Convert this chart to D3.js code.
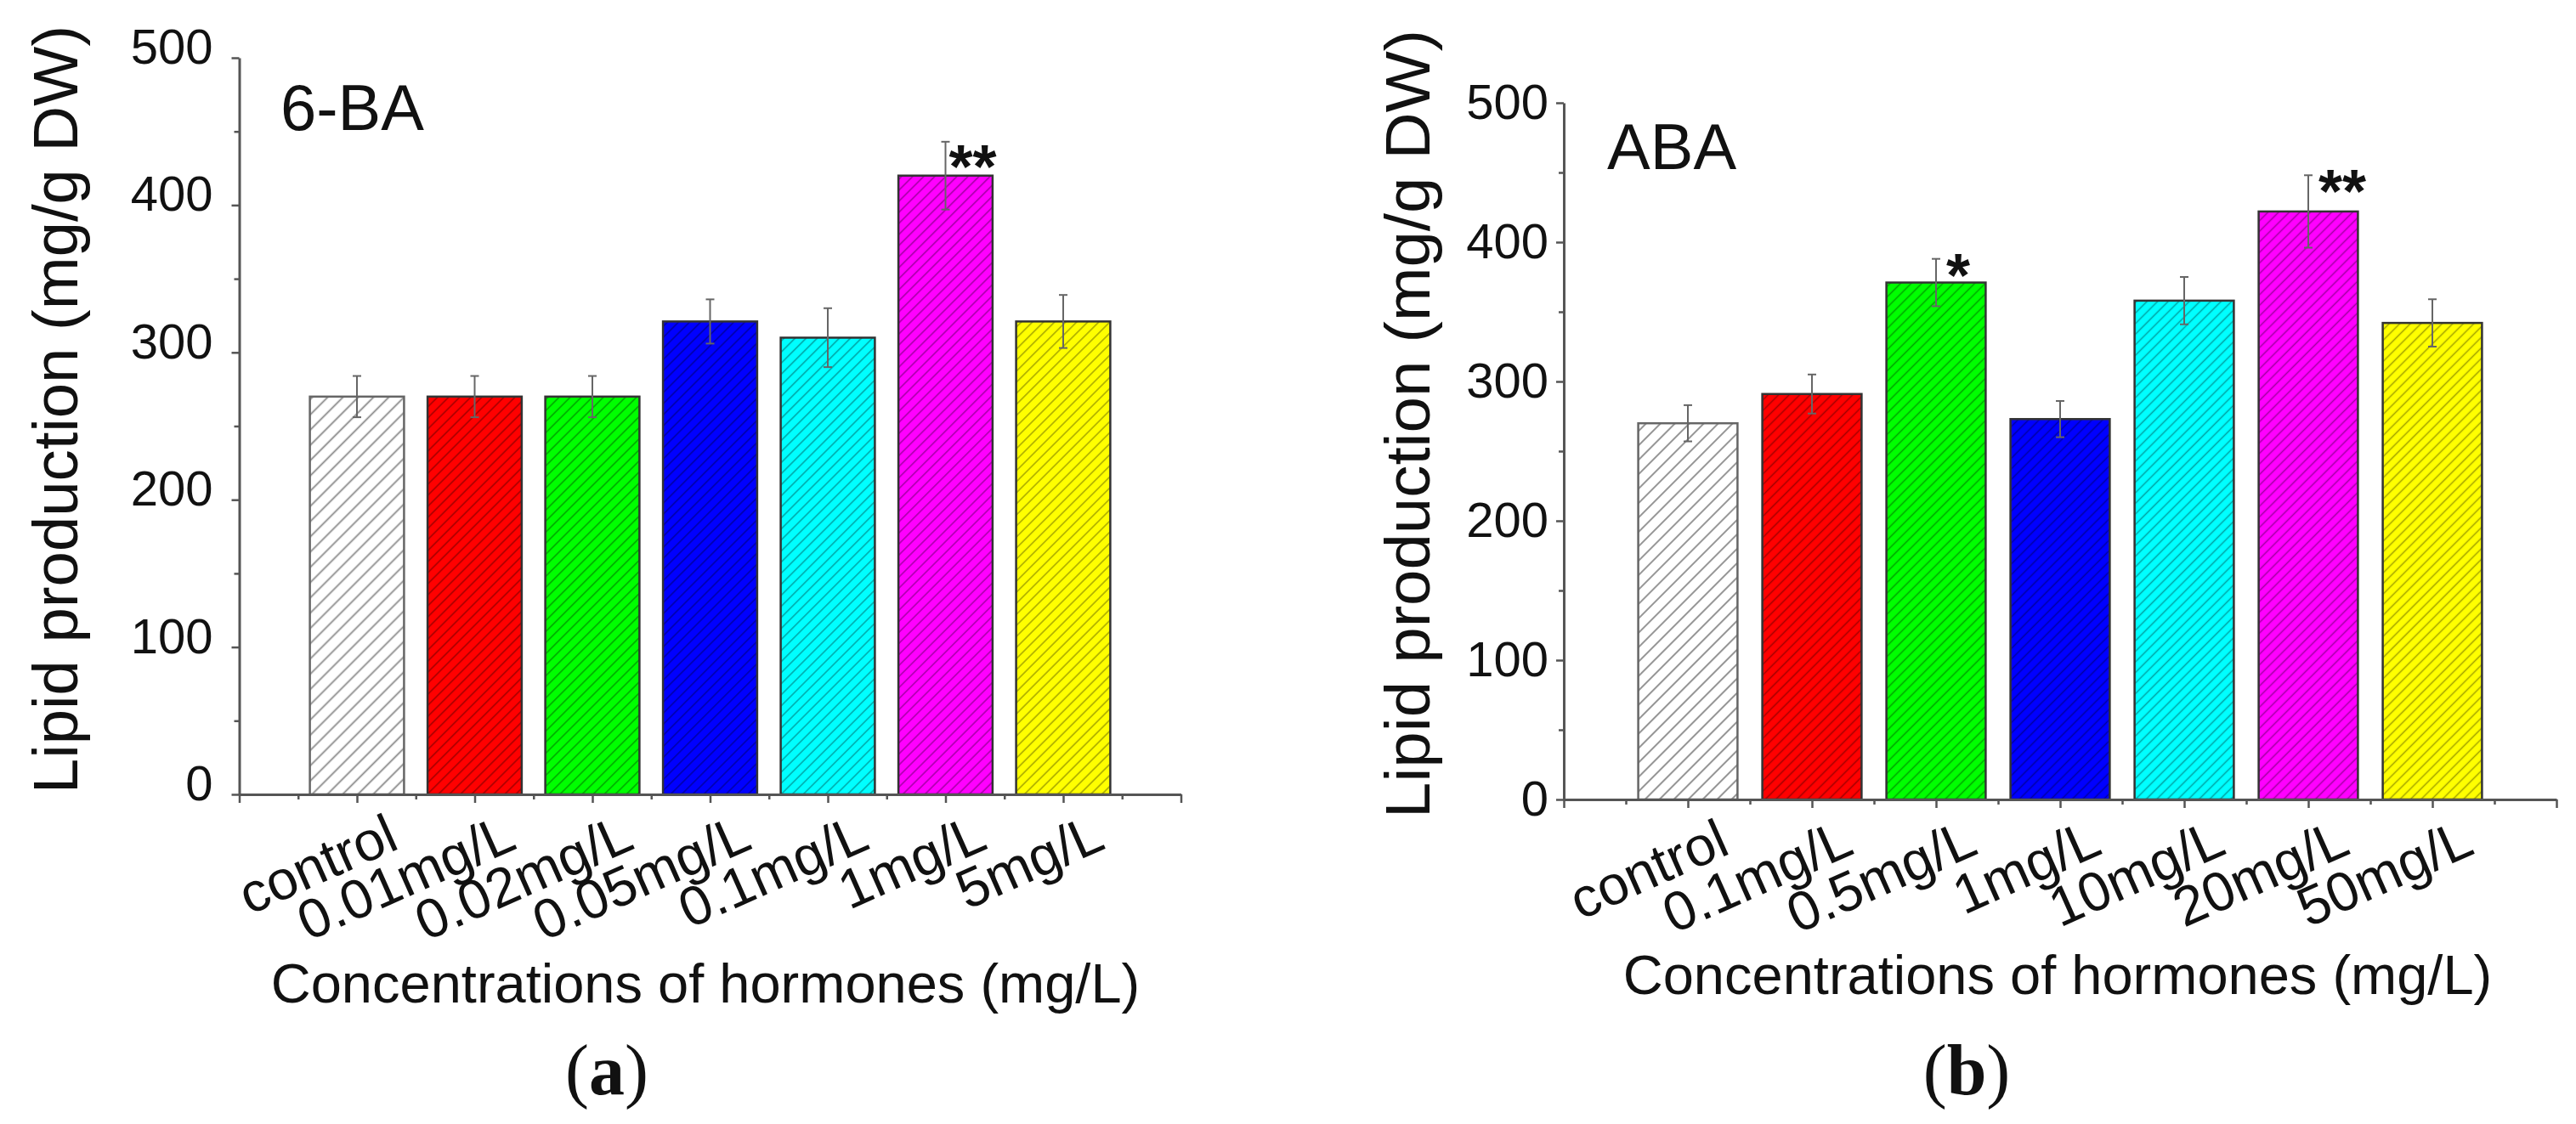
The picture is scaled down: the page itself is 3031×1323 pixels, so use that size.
<!DOCTYPE html>
<html><head><meta charset="utf-8">
<script src="https://cdn.jsdelivr.net/npm/d3@7"></script>
<style>body{margin:0;background:#fff;} svg{display:block;}</style>
</head><body>
<svg id="fig" width="3031" height="1323"></svg>
<script>
// ---------- data ----------
const categoriesA = ["control","0.01mg/L","0.02mg/L","0.05mg/L","0.1mg/L","1mg/L","5mg/L"];
const valuesA = [270, 270, 270, 321, 310, 420, 321];
const errorsA = [14, 14, 14, 15, 20, 23, 18];
const marksA  = ["", "", "", "", "", "**", ""];

const categoriesB = ["control","0.1mg/L","0.5mg/L","1mg/L","10mg/L","20mg/L","50mg/L"];
const valuesB = [270, 291, 371, 273, 358, 422, 342];
const errorsB = [13, 14, 17, 13, 17, 26, 17];
const marksB  = ["", "", "*", "", "", "**", ""];

const barColors = ["#ffffff","#ff0000","#00ff00","#0000ff","#00ffff","#ff00ff","#ffff00"];
const yMajorTicks = [0, 100, 200, 300, 400, 500];
const yMinorTicks = [50, 150, 250, 350, 450];
const yLabelText = "Lipid production (mg/g DW)";
const xLabelText = "Concentrations of hormones (mg/L)";
const panelTitles = ["6-BA", "ABA"];
const panelLetters = ["a", "b"];

// ---------- layout ----------
const W = 3031, H = 1323;
const FONT = "'Liberation Sans', Arial, Helvetica, sans-serif";
const SERIF = "'Liberation Serif', 'Times New Roman', serif";
const svg = d3.select("#fig");
svg.append("rect").attr("width", W).attr("height", H).attr("fill", "#fff");
const defs = svg.append("defs");

const panels = [
  { key:"a", categories:categoriesA, values:valuesA, errors:errorsA, marks:marksA,
    title:panelTitles[0], letter:panelLetters[0],
    x0:281.5, x1:1389.5, yTop:68, yBot:935,
    titleX:330, titleY:153, yLabX:65, yLabY:482, yLabLen:904,
    tickGap:22, tickDy:-12, xTitleX:830, xTitleY:1180, letterX:714, letterY:1288,
    hatch:9.2, hatchCtrl:12.7, markDx:4, markDy:54 },
  { key:"b", categories:categoriesB, values:valuesB, errors:errorsB, marks:marksB,
    title:panelTitles[1], letter:panelLetters[1],
    x0:1840, x1:3008, yTop:121, yBot:941,
    titleX:1891, titleY:199, yLabX:1656, yLabY:499, yLabLen:928,
    tickGap:9, tickDy:0, xTitleX:2421, xTitleY:1170, letterX:2314, letterY:1288,
    hatch:8.8, hatchCtrl:12, markDx:12, markDy:44 }
];

const AXIS_COLOR = "#555";
const LABEL_ANGLE = 24;
const LAB_DX = 42, LAB_DY = 42;

panels.forEach(p => {
  const g = svg.append("g");
  const x = d3.scaleLinear().domain([0, 8]).range([p.x0, p.x1]);
  const y = d3.scaleLinear().domain([0, 500]).range([p.yBot, p.yTop]);
  const pitch = x(1) - x(0);
  const bw = pitch * 0.8;

  // hatch patterns
  barColors.forEach((c, i) => {
    const s = i === 0 ? p.hatchCtrl : p.hatch;
    const pat = defs.append("pattern")
      .attr("id", `h-${p.key}-${i}`)
      .attr("patternUnits", "userSpaceOnUse")
      .attr("width", s).attr("height", s)
      .attr("patternTransform", "rotate(45)");
    pat.append("rect").attr("width", s).attr("height", s).attr("fill", c);
    pat.append("line").attr("x1", s/2).attr("y1", -1).attr("x2", s/2).attr("y2", s+1)
      .attr("stroke", i === 0 ? "#8a8a8a" : "rgba(0,0,0,0.36)")
      .attr("stroke-width", i === 0 ? 1.8 : 1.5);
  });

  // bars
  g.selectAll("rect.bar").data(p.values).join("rect")
    .attr("class", "bar")
    .attr("x", (d, i) => x(i + 1) - bw/2)
    .attr("width", bw)
    .attr("y", d => y(d))
    .attr("height", d => y(0) - y(d))
    .attr("fill", (d, i) => `url(#h-${p.key}-${i})`)
    .attr("stroke", (d, i) => i === 0 ? "#666" : "#333")
    .attr("stroke-width", 2.5);

  // error bars
  const eg = g.selectAll("g.err").data(p.values).join("g").attr("class", "err")
    .attr("stroke", "#666").attr("stroke-width", 2);
  eg.append("line")
    .attr("x1", (d, i) => x(i + 1)).attr("x2", (d, i) => x(i + 1))
    .attr("y1", (d, i) => y(d - p.errors[i])).attr("y2", (d, i) => y(d + p.errors[i]));
  eg.append("line")
    .attr("x1", (d, i) => x(i + 1) - 5).attr("x2", (d, i) => x(i + 1) + 5)
    .attr("y1", (d, i) => y(d + p.errors[i])).attr("y2", (d, i) => y(d + p.errors[i]));
  eg.append("line")
    .attr("x1", (d, i) => x(i + 1) - 5).attr("x2", (d, i) => x(i + 1) + 5)
    .attr("y1", (d, i) => y(d - p.errors[i])).attr("y2", (d, i) => y(d - p.errors[i]));

  // significance marks
  g.selectAll("text.mark").data(p.marks).join("text")
    .attr("class", "mark")
    .attr("x", (d, i) => x(i + 1) + p.markDx)
    .attr("y", (d, i) => y(p.values[i] + p.errors[i]) + p.markDy)
    .attr("font-family", FONT).attr("font-size", 72).attr("font-weight", "bold")
    .attr("fill", "#111")
    .text(d => d);

  // y axis
  const yAxis = g.append("g").attr("transform", `translate(${p.x0},0)`)
    .call(d3.axisLeft(y).tickValues(yMajorTicks).tickSize(9).tickSizeOuter(0).tickPadding(p.tickGap));
  yAxis.select(".domain").attr("stroke", AXIS_COLOR).attr("stroke-width", 3);
  yAxis.selectAll(".tick line").attr("stroke", AXIS_COLOR).attr("stroke-width", 2.5);
  yAxis.selectAll(".tick text").attr("font-family", FONT).attr("font-size", 58)
    .attr("fill", "#111").attr("y", p.tickDy);
  const yMinor = g.append("g").attr("transform", `translate(${p.x0},0)`)
    .call(d3.axisLeft(y).tickValues(yMinorTicks).tickSize(6).tickSizeOuter(0).tickFormat(""));
  yMinor.select(".domain").remove();
  yMinor.selectAll(".tick line").attr("stroke", AXIS_COLOR).attr("stroke-width", 2.5);

  // x axis
  const xAxis = g.append("g").attr("transform", `translate(0,${p.yBot})`)
    .call(d3.axisBottom(x).tickValues(d3.range(0, 9)).tickSize(10).tickSizeOuter(0)
      .tickFormat(d => p.categories[d - 1] || ""));
  xAxis.select(".domain").attr("stroke", AXIS_COLOR).attr("stroke-width", 3);
  xAxis.selectAll(".tick line").attr("stroke", AXIS_COLOR).attr("stroke-width", 2.5);
  xAxis.selectAll(".tick text")
    .attr("font-family", FONT).attr("font-size", 65).attr("fill", "#111")
    .attr("text-anchor", "end")
    .attr("x", LAB_DX).attr("y", LAB_DY).attr("dy", "0.35em")
    .attr("transform", `rotate(-${LABEL_ANGLE},${LAB_DX},${LAB_DY})`);
  const xMinor = g.append("g").attr("transform", `translate(0,${p.yBot})`)
    .call(d3.axisBottom(x).tickValues(d3.range(0.5, 8, 1)).tickSize(6).tickSizeOuter(0).tickFormat(""));
  xMinor.select(".domain").remove();
  xMinor.selectAll(".tick line").attr("stroke", AXIS_COLOR).attr("stroke-width", 2.5);

  // panel title
  g.append("text").attr("x", p.titleX).attr("y", p.titleY)
    .attr("font-family", FONT).attr("font-size", 76).attr("fill", "#111")
    .text(p.title);

  // y label
  g.append("text")
    .attr("transform", `translate(${p.yLabX},${p.yLabY}) rotate(-90)`)
    .attr("text-anchor", "middle").attr("dominant-baseline", "central")
    .attr("font-family", FONT).attr("font-size", 74).attr("fill", "#111")
    .attr("textLength", p.yLabLen).attr("lengthAdjust", "spacingAndGlyphs")
    .text(yLabelText);

  // x label
  g.append("text").attr("x", p.xTitleX).attr("y", p.xTitleY)
    .attr("text-anchor", "middle")
    .attr("font-family", FONT).attr("font-size", 65).attr("fill", "#111")
    .text(xLabelText);

  // panel letter
  const lt = g.append("text").attr("x", p.letterX).attr("y", p.letterY)
    .attr("text-anchor", "middle")
    .attr("font-family", SERIF).attr("font-size", 84).attr("fill", "#111");
  lt.append("tspan").text("(");
  lt.append("tspan").attr("font-weight", "bold").text(p.letter);
  lt.append("tspan").text(")");
});
</script>
</body></html>
